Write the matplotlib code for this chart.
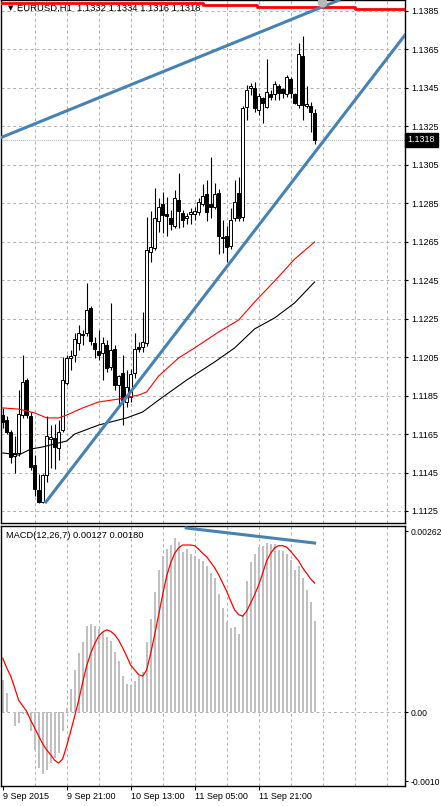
import numpy as np
import matplotlib
matplotlib.use("Agg")
import matplotlib.pyplot as plt
from matplotlib.transforms import blended_transform_factory

plt.rcParams['font.family'] = ['Liberation Sans', 'DejaVu Sans']

# ---- EURUSD H1 candles (bar 0 = 9 Sep 2015 05:00) ----
opens = [1.11749, 1.11723, 1.11661, 1.11536, 1.11552, 1.11749, 1.11931, 1.11744, 1.11489, 1.11359,
         1.11297, 1.11437, 1.11624, 1.11630, 1.11578, 1.11671, 1.11916, 1.12046, 1.12061, 1.12124,
         1.12165, 1.12176, 1.12306, 1.12124, 1.12082, 1.12072, 1.12113, 1.11999, 1.12092, 1.11905,
         1.11968, 1.11817, 1.11843, 1.11968, 1.12103, 1.12103, 1.12124, 1.12597, 1.12618, 1.12758,
         1.12846, 1.12794, 1.12774, 1.12732, 1.12867, 1.12800, 1.12774, 1.12794, 1.12794, 1.12805,
         1.12846, 1.12898, 1.12846, 1.12831, 1.12904, 1.12675, 1.12680, 1.12628, 1.12774, 1.12904,
         1.12779, 1.13351, 1.13450, 1.13450, 1.13335, 1.13398, 1.13351, 1.13418, 1.13418, 1.13460,
         1.13444, 1.13418, 1.13496, 1.13418, 1.13361, 1.13616, 1.13356, 1.13356, 1.13320]
highs = [1.11786, 1.11744, 1.11671, 1.11640, 1.11879, 1.12061, 1.11942, 1.11765, 1.11541, 1.11442,
         1.11442, 1.11744, 1.11697, 1.11702, 1.11723, 1.12051, 1.12061, 1.12087, 1.12176, 1.12217,
         1.12191, 1.12436, 1.12316, 1.12155, 1.12191, 1.12155, 1.12139, 1.12332, 1.12113, 1.11957,
         1.12061, 1.11983, 1.11988, 1.12176, 1.12129, 1.12285, 1.12779, 1.12810, 1.12930, 1.12878,
         1.12909, 1.12883, 1.12815, 1.12919, 1.13008, 1.12815, 1.12800, 1.12826, 1.12831, 1.12878,
         1.12950, 1.12971, 1.13091, 1.12956, 1.12924, 1.12763, 1.12732, 1.12826, 1.12971, 1.12987,
         1.13356, 1.13465, 1.13476, 1.13481, 1.13424, 1.13403, 1.13600, 1.13439, 1.13486, 1.13470,
         1.13450, 1.13517, 1.13507, 1.13424, 1.13684, 1.13720, 1.13460, 1.13377, 1.13340]
lows = [1.11682, 1.11650, 1.11500, 1.11448, 1.11536, 1.11734, 1.11734, 1.11463, 1.11328, 1.11292,
        1.11292, 1.11401, 1.11474, 1.11468, 1.11515, 1.11661, 1.11905, 1.11983, 1.12025, 1.12087,
        1.12113, 1.12160, 1.12113, 1.12046, 1.12035, 1.11931, 1.11973, 1.11983, 1.11879, 1.11801,
        1.11697, 1.11791, 1.11817, 1.11942, 1.12077, 1.12077, 1.12108, 1.12545, 1.12607, 1.12701,
        1.12696, 1.12680, 1.12711, 1.12722, 1.12722, 1.12727, 1.12742, 1.12742, 1.12763, 1.12789,
        1.12836, 1.12758, 1.12774, 1.12820, 1.12586, 1.12592, 1.12545, 1.12612, 1.12758, 1.12758,
        1.12758, 1.13283, 1.13413, 1.13325, 1.13309, 1.13268, 1.13346, 1.13387, 1.13387, 1.13387,
        1.13398, 1.13403, 1.13398, 1.13366, 1.13346, 1.13283, 1.13346, 1.13221, 1.13160]
closes = [1.11713, 1.11661, 1.11531, 1.11552, 1.11754, 1.11921, 1.11749, 1.11479, 1.11364, 1.11297,
          1.11437, 1.11640, 1.11635, 1.11583, 1.11661, 1.11931, 1.12046, 1.12056, 1.12144, 1.12176,
          1.12170, 1.12295, 1.12134, 1.12092, 1.12061, 1.12124, 1.11994, 1.12087, 1.11905, 1.11952,
          1.11827, 1.11895, 1.11962, 1.12092, 1.12092, 1.12129, 1.12607, 1.12623, 1.12774, 1.12831,
          1.12789, 1.12784, 1.12742, 1.12878, 1.12810, 1.12763, 1.12784, 1.12805, 1.12810, 1.12857,
          1.12888, 1.12805, 1.12831, 1.12898, 1.12680, 1.12670, 1.12623, 1.12763, 1.12857, 1.12774,
          1.13346, 1.13439, 1.13460, 1.13346, 1.13408, 1.13372, 1.13429, 1.13403, 1.13470, 1.13424,
          1.13424, 1.13507, 1.13424, 1.13372, 1.13626, 1.13361, 1.13366, 1.13325, 1.13180]

# moving averages (read at sample bars)
ma_red_x = [0, 4, 8, 11, 14, 16, 20, 24, 29, 34, 36, 39, 44, 48, 54, 59, 63, 68, 73, 78]
ma_red_y = [1.11786, 1.11780, 1.11760, 1.11734, 1.11734, 1.11749, 1.11786, 1.11817, 1.11832, 1.11853,
            1.11869, 1.11952, 1.12046, 1.12098, 1.12181, 1.12243, 1.12337, 1.12446, 1.12560, 1.12649]
ma_blk_x = [0, 4, 7, 10, 14, 16, 18, 24, 31, 35, 39, 46, 53, 58, 63, 68, 73, 78]
ma_blk_y = [1.11552, 1.11541, 1.11572, 1.11583, 1.11604, 1.11614, 1.11650, 1.11697, 1.11734, 1.11765,
            1.11827, 1.11931, 1.12025, 1.12098, 1.12197, 1.12254, 1.12332, 1.12441]

# trend lines and the red level line at the top
upper_line_x = [-1, 84]
upper_line_y = [1.13187, 1.13906]
lower_line_x = [10.8, 100.6]
lower_line_y = [1.11297, 1.13725]
red_step_x = [-1, 50.1, 63.6, 75.1, 88.1, 101]
red_step_y = [1.13894, 1.13881, 1.13873, 1.13869, 1.13860, 1.13860]

price_ticks = [1.1125, 1.1145, 1.1165, 1.1185, 1.1205, 1.1225, 1.1245,
               1.1265, 1.1285, 1.1305, 1.1325, 1.1345, 1.1365, 1.1385]
bid = 1.1318

# ---- MACD(12,26,7), values in 1e-5 ----
macd_main = [46, 28, 0, -20, -16, -3, -4, -28, -55, -81,
             -90, -84, -74, -67, -59, -28, 6, 33, 61, 86,
             101, 125, 128, 125, 120, 116, 109, 103, 87, 74,
             52, 41, 39, 45, 52, 58, 101, 135, 174, 206,
             226, 236, 242, 252, 246, 232, 236, 229, 226, 222,
             219, 212, 201, 194, 171, 151, 130, 122, 123, 113,
             139, 190, 217, 229, 239, 241, 245, 243, 243, 235,
             233, 229, 220, 206, 212, 194, 177, 159, 132]
macd_signal = [78, 64, 52, 35, 17, 9, 1, -12, -23, -35,
               -46, -55, -62, -70, -74, -68, -49, -28, -6, 17,
               43, 67, 85, 99, 110, 116, 119, 117, 112, 104,
               93, 81, 68, 61, 54, 52, 61, 85, 112, 141,
               170, 197, 216, 230, 238, 242, 242, 242, 241, 236,
               230, 225, 217, 209, 199, 187, 175, 161, 148, 141,
               139, 146, 158, 170, 184, 201, 219, 230, 238, 241,
               241, 239, 233, 226, 219, 209, 201, 193, 187]
macd_line_x = [45.9, 78]
macd_line_y = [0.002667, 0.002449]

date_ticks = [0, 16, 32, 48, 64]
date_labels = ["9 Sep 2015", "9 Sep 21:00", "10 Sep 13:00", "11 Sep 05:00", "11 Sep 21:00"]

# ---- figure ----
fig = plt.figure(figsize=(4.41, 8.06), dpi=100)
ax = fig.add_axes([0.0034, 0.35112, 0.91497, 0.64826])
ax2 = fig.add_axes([0.0034, 0.02481, 0.91497, 0.32258])

grid_kw = dict(color="#b0b0b0", lw=0.7, linestyle=(0, (3, 3)), zorder=0)
for a in (ax, ax2):
    a.set_xlim(-0.3, 100.6)
    for gx in range(8, 101, 8):
        a.axvline(gx, **grid_kw)
    for sp in a.spines.values():
        sp.set_color("black")
        sp.set_linewidth(1)
for p in price_ticks:
    ax.axhline(p, **grid_kw)
ax2.axhline(0, **grid_kw)

# candles
o = np.array(opens); h = np.array(highs); l = np.array(lows); c = np.array(closes)
x = np.arange(len(c))
up = c >= o
ax.vlines(x, l, h, color="black", lw=0.8, zorder=2)
bottom = np.minimum(o, c)
height = np.maximum(np.abs(c - o), 0.00003)
ax.bar(x[up], height[up], bottom=bottom[up], width=0.62, facecolor="white",
       edgecolor="black", lw=0.7, zorder=3)
ax.bar(x[~up], height[~up], bottom=bottom[~up], width=0.62, facecolor="black",
       edgecolor="black", lw=0.7, zorder=3)

# indicators and objects
ax.plot(ma_red_x, ma_red_y, color="red", lw=0.8, zorder=4)
ax.plot(ma_blk_x, ma_blk_y, color="black", lw=0.8, zorder=4)
ax.axhline(bid, color="#9fb59f", lw=0.7, linestyle=(0, (1, 1)), zorder=1)
ax.step(red_step_x, red_step_y, where="post", color="red", lw=2, zorder=5)
ax.plot(upper_line_x, upper_line_y, color="#4682B4", lw=2.2, zorder=6)
ax.plot(lower_line_x, lower_line_y, color="#4682B4", lw=2.2, zorder=6)
ax.plot([79.8], [1.13899], "o", ms=6, color="#b8b8b8", zorder=7, clip_on=True)

ax.set_ylim(1.111876, 1.139046)
ax.yaxis.tick_right()
ax.set_yticks(price_ticks)
ax.set_yticklabels([f"{p:.4f}" for p in price_ticks])
ax.tick_params(axis="y", length=2, width=0.8, pad=2.5, labelsize=6.5, direction="out")
ax.tick_params(axis="x", bottom=False, labelbottom=False)

# bid label
tr = blended_transform_factory(ax.transAxes, ax.transData)
ax.text(1.006, bid, f"{bid:.4f}", transform=tr, ha="left", va="center", fontsize=6.5,
        color="white", bbox=dict(boxstyle="square,pad=0.3", fc="black", ec="black"),
        zorder=10, clip_on=False)

# MACD panel
m = np.array(macd_main) * 1e-5
s = np.array(macd_signal) * 1e-5
ax2.bar(x, m, width=0.5, color="#c0c0c0", zorder=2)
ax2.plot(x, s, color="red", lw=0.9, zorder=3)
ax2.plot(macd_line_x, macd_line_y, color="#4682B4", lw=2.2, zorder=4)
ax2.set_ylim(-0.0010725, 0.0026957)
ax2.yaxis.tick_right()
ax2.set_yticks([0.00262, 0.0, -0.0010])
ax2.set_yticklabels(["0.00262", "0.00", "-0.0010"])
ax2.tick_params(axis="y", length=2, width=0.8, pad=2.0, labelsize=6.2, direction="out")
ax2.set_xticks(date_ticks)
ax2.set_xticklabels(date_labels)
ax2.tick_params(axis="x", length=3, width=0.8, pad=1.5, labelsize=6.5, direction="out")
for lab in ax2.get_xticklabels():
    lab.set_ha("left")

# header texts
fig.text(8 / 441, 1 - 8 / 806, "\u25BC", fontsize=5, va="center", ha="left",
         family=["DejaVu Sans"])
fig.text(17 / 441, 1 - 8 / 806, "EURUSD,H1  1.1332 1.1334 1.1316 1.1318",
         fontsize=6.8, va="center", ha="left")
fig.text(6 / 441, 1 - 535 / 806, "MACD(12,26,7) 0.00127 0.00180",
         fontsize=6.7, va="center", ha="left")

fig.savefig("out.png", dpi=100)
